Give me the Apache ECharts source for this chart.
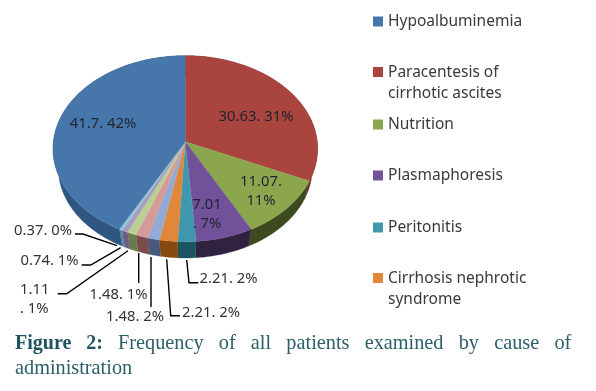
<!DOCTYPE html>
<html><head><meta charset="utf-8">
<style>html,body{margin:0;padding:0;background:#fff}#c{width:596px;height:391px}</style>
<script src="https://cdn.jsdelivr.net/npm/echarts@6/dist/echarts.min.js"></script></head>
<body><div id="c"></div>
<script>
const categories = ['Paracentesis of\ncirrhotic ascites','Nutrition','Plasmaphoresis','Peritonitis','Cirrhosis nephrotic\nsyndrome','s7','s8','s9','s10','s11','Hypoalbuminemia'];
const values = [30.63,11.07,7.01,2.21,2.21,1.48,1.48,1.11,0.74,0.37,41.7];
const labelTexts = ['30.63. 31%','11.07.\n11%','7.01\n. 7%','2.21. 2%','2.21. 2%','1.48. 2%','1.48. 1%','1.11\n. 1%','0.74. 1%','0.37. 0%','41.7. 42%'];
const legendOrder = [10,0,1,2,3,4];

// styling and layout (separate from data)
const topColors = ['#a9443f','#8ba64c','#71529a','#3f98ae','#e0873a','#93aad4','#d69b99','#bad092','#a99cc2','#92c6da','#4776aa'];
const sideColors = ['#6e2a27','#3d4a20','#2f2340','#1c5361','#86490f','#4a5a7c','#7c4a4a','#6a7a4c','#6a5f80','#5a8a9c','#2f5581'];
const labelPos = [[256,117],[261,191.5],[207,214.5],[228.5,279],[211,313],[135,317],[118.5,295],[20,299],[49.5,261],[43,231],[103,124]];
const leaders = [null,null,null,
  [[186.7,260],[189,282.7],[198.3,282.7]],
  [[166.7,259.3],[170.7,315.7],[180,315.7]],
  [[151,257],[151,307]],
  [[138.7,253],[138.7,283]],
  [[57.7,293.7],[66.7,293.7],[128,250.7]],
  [[81.7,265],[90.7,265],[120.7,247.7]],
  [[75,234],[83,234],[117,245.7]],null];
const TOP = {cx:185.3, cy:148.7, rx:132.3, ry:93};
const BOT = {cx:185.3, cy:168, rx:127, ry:90};
const APEX = [185.3,141.7];
const LFONT = '"Noto Sans","Open Sans",sans-serif';

const total = values.reduce((a,b)=>a+b,0);
const pt = (E,t)=>[E.cx+E.rx*Math.sin(t), E.cy-E.ry*Math.cos(t)];
function arc(E,a,b){const n=Math.max(2,Math.ceil(Math.abs(b-a)/0.02));const r=[];for(let i=0;i<=n;i++)r.push(pt(E,a+(b-a)*i/n));return r;}
let acc=0;
const spans = values.map(v=>{const s=[acc/total*2*Math.PI,(acc+v)/total*2*Math.PI];acc+=v;return s;});

const series = values.map((v,i)=>({
  type:'custom', name:categories[i], coordinateSystem:'none', silent:true,
  itemStyle:{color:topColors[i]}, data:[v], animation:false,
  renderItem(){
    const [a,b]=spans[i];
    const top=arc(TOP,a,b), bot=arc(BOT,a,b).reverse();
    const kids=[
      {type:'polygon',z2:0,shape:{points:top.concat(bot)},style:{fill:sideColors[i],stroke:sideColors[i],lineWidth:0.3}},
      {type:'polygon',z2:5,shape:{points:[APEX].concat(top)},style:{fill:topColors[i],stroke:topColors[i],lineWidth:0.3}},
      {type:'text',z2:20,style:{x:labelPos[i][0],y:labelPos[i][1],text:labelTexts[i],fill:leaders[i]?'#333':'#1c2530',font:'14.8px '+LFONT,align:leaders[i]&&labelTexts[i].includes('\n')?'left':'center',verticalAlign:'middle',lineHeight:19}}
    ];
    if(leaders[i]) kids.push({type:'polyline',z2:10,shape:{points:leaders[i]},style:{fill:'none',stroke:'#000',lineWidth:1.4}});
    return {type:'group',children:kids};
  }
}));

const twoLine = 'path://M0,0L0.01,0L0.01,0.01Z M0,5H10V15H0Z M9.99,42L10,42L10,41.99Z';
const legendTops = [11,62,114,165,217,268];
const legend = legendOrder.map((idx,k)=>{
  const multi=categories[idx].includes('\n');
  return {show:true,left:373,top:legendTops[k],orient:'vertical',padding:0,itemGap:0,
    data:[categories[idx]],selectedMode:false,itemWidth:10,itemHeight:multi?42:10,
    icon:multi?twoLine:'rect',
    textStyle:{color:'#3a3a3a',fontFamily:LFONT,fontSize:15.5,lineHeight:21}};
});

const chart = echarts.init(document.getElementById('c'),null,{renderer:'canvas'});
chart.setOption({
  animation:false, backgroundColor:'#fff', legend, series,
  title:{left:15,top:331,padding:0,itemGap:0,
    text:'{b|Figure   2:}   {n|Frequency   of   all   patients   examined   by   cause   of}\n{n|administration}',
    textStyle:{fontWeight:'normal',rich:{
      b:{fontFamily:'"Liberation Serif",serif',fontWeight:'bold',fontSize:20,color:'#1f5560',lineHeight:25},
      n:{fontFamily:'"Liberation Serif",serif',fontWeight:'normal',fontSize:20.3,color:'#2c5f6a',lineHeight:25}}}}
});
</script></body></html>
